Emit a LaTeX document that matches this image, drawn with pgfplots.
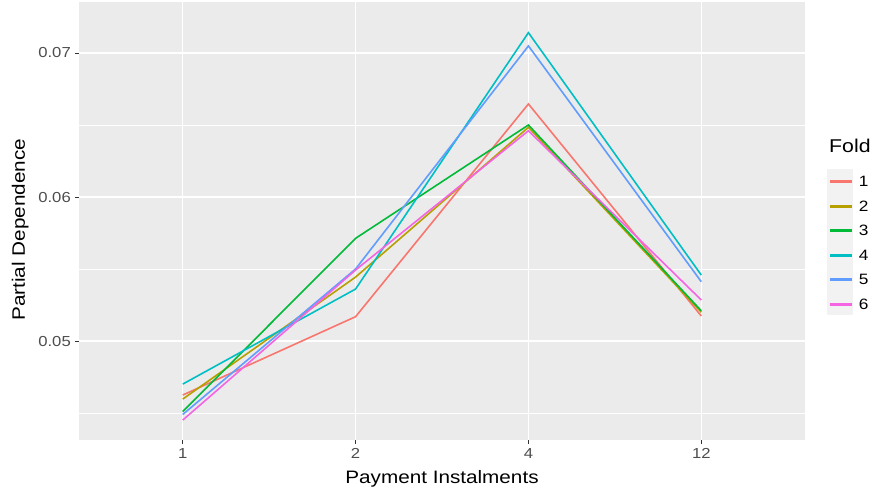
\documentclass[border=0pt]{standalone}
\usepackage{pgfplots}
\pgfplotsset{compat=1.18}
\usepackage{fontspec}
\setmainfont{Liberation Sans}[FakeStretch=1.15]
\definecolor{panelbg}{HTML}{EBEBEB}
\definecolor{keybg}{HTML}{F2F2F2}
\definecolor{tickc}{HTML}{333333}
\definecolor{ticklab}{HTML}{4D4D4D}
\definecolor{c1}{HTML}{F8766D}
\definecolor{c2}{HTML}{B79F00}
\definecolor{c3}{HTML}{00BA38}
\definecolor{c4}{HTML}{00BFC4}
\definecolor{c5}{HTML}{619CFF}
\definecolor{c6}{HTML}{F564E3}
\begin{document}
\begin{tikzpicture}
\useasboundingbox (-79pt,-49pt) rectangle (794pt,440pt);
\fill[keybg] (748pt,125pt) rectangle (774pt,271pt);
\begin{axis}[
  scale only axis, width=726pt, height=438pt,
  xmin=-0.6, xmax=3.6, ymin=0.04313, ymax=0.07354,
  scaled y ticks=false, scaled x ticks=false,
  xtick={0,1,2,3}, xticklabels={1,2,4,12},
  ytick={0.05,0.06,0.07}, yticklabels={0.05,0.06,0.07},
  minor ytick={0.045,0.055,0.065},
  grid=both,
  major grid style={white, line width=1.2pt},
  minor grid style={white, line width=0.6pt},
  axis background/.style={fill=panelbg},
  axis line style={draw=none},
  xtick pos=bottom, ytick pos=left,
  tick align=outside,
  major tick length=4pt, minor tick length=0pt,
  tick style={color=tickc, line width=0.9pt},
  ticklabel style={font=\fontsize{14.5}{14.5}\selectfont, color=ticklab, inner sep=0pt},
  yticklabel style={anchor=east, xshift=-4pt},
  xticklabel style={anchor=north, yshift=-4pt},
  xlabel={Payment Instalments},
  ylabel={Partial Dependence},
  label style={font=\fontsize{18}{18}\selectfont, color=black},
  xlabel style={at={(axis description cs:0.5,-0.0982)}, anchor=base, inner sep=0pt},
  ylabel style={at={(axis description cs:-0.0744,0.48)}, anchor=base, inner sep=0pt},
  legend style={at={(axis description cs:1.0344,0.6062)}, anchor=north west,
    draw=none, fill=none, inner sep=0pt, column sep=7pt,
    font=\fontsize{15}{15}\selectfont,
    nodes={inner sep=0pt, text height=12pt, text depth=12.5pt}},
  legend cell align=left,
  legend image code/.code={\fill[#1] (0pt,4.7pt) rectangle (20pt,6.0pt);},
  every axis plot/.append style={line width=1.6pt},
]
\addplot[c1] coordinates {(0,0.04625) (1,0.05169) (2,0.06646) (3,0.05174)};
\addplot[c2] coordinates {(0,0.04597) (1,0.05444) (2,0.06484) (3,0.05200)};
\addplot[c3] coordinates {(0,0.04510) (1,0.05713) (2,0.06500) (3,0.05210)};
\addplot[c4] coordinates {(0,0.04701) (1,0.05361) (2,0.07141) (3,0.05458)};
\addplot[c5] coordinates {(0,0.04490) (1,0.05500) (2,0.07049) (3,0.05412)};
\addplot[c6] coordinates {(0,0.04451) (1,0.05493) (2,0.06460) (3,0.05285)};
\legend{1,2,3,4,5,6}
\end{axis}
\node[anchor=base west, font=\fontsize{18.5}{18.5}\selectfont, inner sep=0pt] at (750pt,287pt) {Fold};
\end{tikzpicture}
\end{document}
